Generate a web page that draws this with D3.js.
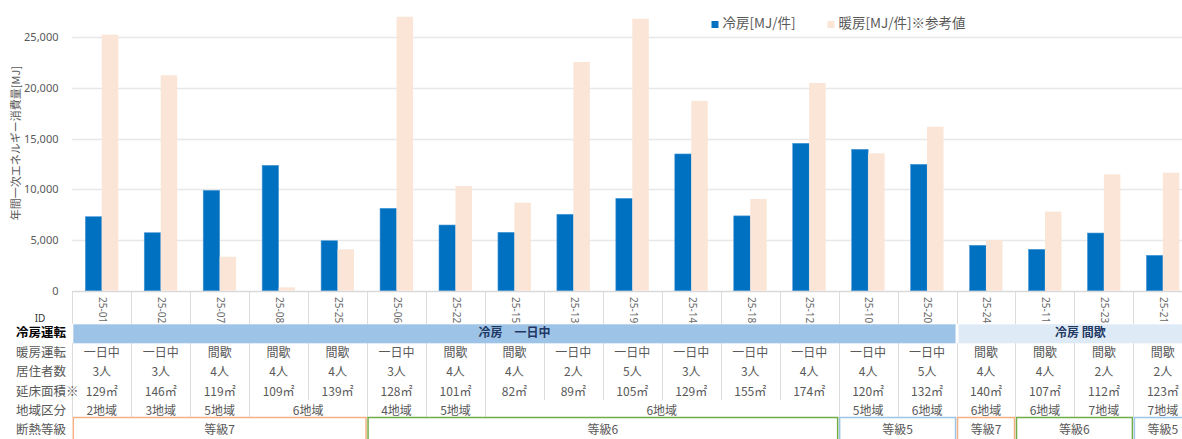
<!DOCTYPE html>
<html lang="ja">
<head>
<meta charset="utf-8">
<script src="https://cdn.jsdelivr.net/npm/d3@7/dist/d3.min.js"></script>
<style>
  html, body { margin: 0; padding: 0; background: #fff; }
  svg { display: block; font-family: "Noto Sans CJK JP", "Noto Sans", sans-serif; }
</style>
</head>
<body>
<svg id="chart" width="1182" height="439"></svg>
<script>
// 住宅ごとの年間一次エネルギー消費量（冷房・暖房）
const ids = ["25-01","25-02","25-07","25-08","25-25","25-06","25-22","25-15","25-13","25-19",
             "25-14","25-18","25-12","25-10","25-20","25-24","25-11","25-23","25-21"];
const cooling = [7300,5720,9900,12370,4930,8130,6480,5760,7540,9110,
                 13490,7380,14540,13950,12470,4480,4080,5690,3490];
const heating = [25260,21250,3350,330,4080,27030,10330,8680,22560,26830,
                 18730,9050,20490,13550,16180,5000,7800,11480,11640];
const seriesNames = ["冷房[MJ/件]", "暖房[MJ/件]※参考値"];
const yTicks = [0, 5000, 10000, 15000, 20000, 25000];
const yTitle = "年間一次エネルギー消費量[MJ]";

// 表の行
const rowLabels = ["ID", "冷房運転", "暖房運転", "居住者数", "延床面積※", "地域区分", "断熱等級"];
const coolingModeLabels = ["冷房　一日中", "冷房 間歇"];
const coolingModeSpans = [15, 4];
const heatingMode = ["一日中","一日中","間歇","間歇","間歇","一日中","間歇","間歇","一日中","一日中",
                     "一日中","一日中","一日中","一日中","一日中","間歇","間歇","間歇","間歇"];
const occupants = [3,3,4,4,4,3,4,4,2,5,3,3,4,4,5,4,4,2,2];
const floorArea = [129,146,119,109,139,128,101,82,89,105,129,155,174,120,132,140,107,112,123];
const regionLabels = ["2地域","3地域","5地域","6地域","4地域","5地域","6地域","5地域","6地域","6地域","6地域","7地域","7地域"];
const regionSpans = [1,1,1,2,1,1,6,1,1,1,1,1,1];
const gradeLabels = ["等級7","等級6","等級5","等級7","等級6","等級5"];
const gradeSpans = [5,8,2,1,2,1];

const colors = { cool: "#0070C0", heat: "#FBE5D6" };
const gradeColors = { "等級7": "#F4B183", "等級6": "#70AD47", "等級5": "#9DC3E6" };
const bandColors = ["#9DC3E6", "#DEEBF7"];
const textGray = "#595959";

const svg = d3.select("#chart");

// スケール
const x = d3.scaleBand().domain(ids).range([72.3, 72.3 + 58.95 * ids.length]).padding(0);
const x1 = d3.scaleBand().domain(["cool", "heat"]).range([0, x.bandwidth()]).paddingOuter(0.79).paddingInner(0);
const y = d3.scaleLinear().domain([0, 25000]).range([290.7, 37.3]);

// 補助線
svg.append("g").selectAll("line").data(yTicks).join("line")
  .attr("x1", x.range()[0]).attr("x2", x.range()[1])
  .attr("y1", d => Math.round(y(d)) + 0.5).attr("y2", d => Math.round(y(d)) + 0.5)
  .attr("stroke", d => d === 0 ? "#d9d9d9" : "#e8e8e8").attr("stroke-width", 1.3);

// Y軸
const yAxis = d3.axisLeft(y).tickValues(yTicks).tickSize(0).tickPadding(0)
  .tickFormat(d3.format(","));
const gy = svg.append("g").attr("transform", "translate(58.5,0)").call(yAxis);
gy.select(".domain").remove();
gy.selectAll("text").attr("fill", textGray).style("font-size", "11px")
  .style("font-family", "'Noto Sans', sans-serif");

svg.append("text")
  .attr("transform", "translate(17,143) rotate(-90)")
  .attr("text-anchor", "middle").attr("dominant-baseline", "middle")
  .attr("fill", textGray).style("font-size", "11px")
  .text(yTitle);

// 棒
const groups = svg.append("g").selectAll("g").data(ids).join("g")
  .attr("transform", d => `translate(${x(d)},0)`);
groups.append("rect")
  .attr("x", x1("cool")).attr("width", x1.bandwidth())
  .attr("y", (d, i) => y(cooling[i])).attr("height", (d, i) => y(0) - y(cooling[i]))
  .attr("fill", colors.cool).attr("stroke", "#4a9ad8").attr("stroke-width", 0.6);
groups.append("rect")
  .attr("x", x1("heat")).attr("width", x1.bandwidth())
  .attr("y", (d, i) => y(heating[i])).attr("height", (d, i) => y(0) - y(heating[i]))
  .attr("fill", colors.heat);

// 凡例
const legend = svg.append("g").style("font-size", "13.5px");
const legendItems = [
  { name: seriesNames[0], color: colors.cool, x: 711.5 },
  { name: seriesNames[1], color: colors.heat, x: 827.5 }
];
legendItems.forEach(it => {
  legend.append("rect").attr("x", it.x).attr("y", 21).attr("width", 7).attr("height", 7).attr("fill", it.color);
  legend.append("text").attr("x", it.x + 11).attr("y", 24.5).attr("dominant-baseline", "middle")
    .attr("fill", textGray).text(it.name);
});

// 表
const table = svg.append("g");
const rowY = [319, 334, 354, 373, 392.5, 412, 430.5];
const colEdge = i => x.range()[0] + i * x.step();

// 列区切り線（ID・暖房運転〜延床面積）
const sepColor = "#dcdcdc";
d3.range(ids.length + 1).forEach(i => {
  const cx = Math.round(colEdge(i)) + 0.5;
  table.append("line").attr("x1", cx).attr("x2", cx).attr("y1", 291).attr("y2", 324)
    .attr("stroke", sepColor);
  table.append("line").attr("x1", cx).attr("x2", cx).attr("y1", 343).attr("y2", 400)
    .attr("stroke", sepColor);
});

// 地域区分の区切り
let acc = 0;
const regionEdges = [0];
regionSpans.forEach(s => { acc += s; regionEdges.push(acc); });
regionEdges.forEach(e => {
  const cx = Math.round(colEdge(e)) + 0.5;
  table.append("line").attr("x1", cx).attr("x2", cx).attr("y1", 400).attr("y2", 417)
    .attr("stroke", sepColor);
});

// ID（縦書き）
table.selectAll("text.id").data(ids).join("text").attr("class", "id")
  .attr("transform", d => `translate(${x(d) + x.bandwidth() / 2},297) rotate(90)`)
  .attr("dominant-baseline", "middle").attr("text-anchor", "start")
  .attr("fill", "#6a6a6a").style("font-size", "10px")
  .style("font-family", "'Noto Sans', sans-serif")
  .text(d => d);

// 冷房運転の帯
acc = 0;
coolingModeLabels.forEach((lab, k) => {
  const x0 = colEdge(acc), x1e = colEdge(acc + coolingModeSpans[k]);
  table.append("rect").attr("x", x0 + (k ? 2 : 1)).attr("y", 324.3)
    .attr("width", x1e - x0 - 2).attr("height", 19).attr("fill", bandColors[k]);
  table.append("text").attr("x", (x0 + x1e) / 2 + (k ? 6 : 0)).attr("y", 334)
    .attr("text-anchor", "middle").attr("dominant-baseline", "middle")
    .attr("fill", "#1F3864").style("font-size", "12px").style("font-weight", "bold")
    .text(lab);
  acc += coolingModeSpans[k];
});

// 各列の値
const cellRows = [
  { yy: rowY[2], vals: heatingMode },
  { yy: rowY[3], vals: occupants.map(d => d + "人") },
  { yy: rowY[4], vals: floorArea.map(d => d + "㎡") }
];
cellRows.forEach(r => {
  table.append("g").selectAll("text").data(ids).join("text")
    .attr("x", d => x(d) + x.bandwidth() / 2).attr("y", r.yy)
    .attr("text-anchor", "middle").attr("dominant-baseline", "middle")
    .attr("fill", textGray).style("font-size", "12px")
    .text((d, i) => r.vals[i]);
});

// 地域区分
regionLabels.forEach((lab, k) => {
  const cx = (colEdge(regionEdges[k]) + colEdge(regionEdges[k + 1])) / 2;
  table.append("text").attr("x", cx).attr("y", rowY[5])
    .attr("text-anchor", "middle").attr("dominant-baseline", "middle")
    .attr("fill", textGray).style("font-size", "12px").text(lab);
});

// 断熱等級の枠
acc = 0;
gradeLabels.forEach((lab, k) => {
  const x0 = colEdge(acc), x1e = colEdge(acc + gradeSpans[k]);
  table.append("rect").attr("x", x0 + 1).attr("y", 417.5)
    .attr("width", x1e - x0 - 2).attr("height", 30)
    .attr("fill", "none").attr("stroke", gradeColors[lab]).attr("stroke-width", 1.5);
  table.append("text").attr("x", (x0 + x1e) / 2).attr("y", rowY[6])
    .attr("text-anchor", "middle").attr("dominant-baseline", "middle")
    .attr("fill", textGray).style("font-size", "12px").text(lab);
  acc += gradeSpans[k];
});

// 行見出し
rowLabels.forEach((lab, k) => {
  const t = table.append("text").attr("y", rowY[k]).attr("dominant-baseline", "middle");
  if (k === 0) {
    t.attr("x", 40).attr("text-anchor", "middle").attr("fill", "#333")
      .style("font-size", "10px").style("font-family", "'Noto Sans', sans-serif").text(lab);
  } else if (k === 1) {
    t.attr("x", 16).attr("fill", "#000").style("font-size", "12.5px").style("font-weight", "bold").text(lab);
  } else {
    t.attr("x", 16).attr("fill", textGray).style("font-size", "12.5px").text(lab);
  }
});
</script>
</body>
</html>
